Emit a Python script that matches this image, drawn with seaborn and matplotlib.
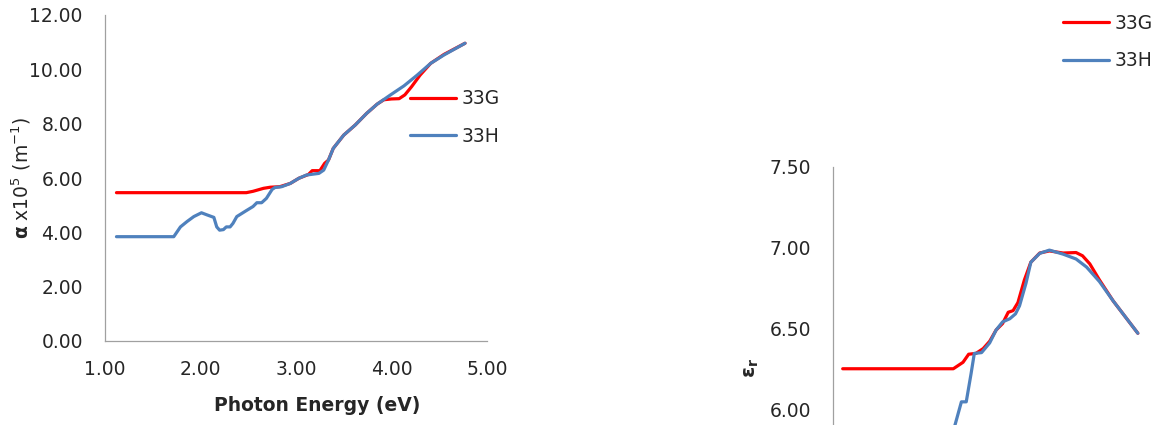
import numpy as np
import pandas as pd
import matplotlib
matplotlib.use("Agg")
import matplotlib.pyplot as plt
import seaborn as sns

# Absorption coefficient alpha (x10^5 m^-1) vs photon energy (eV)
g_alpha_x = [1.12, 2.48, 2.55, 2.66, 2.73, 2.83, 2.94, 3.03, 3.13, 3.17, 3.25, 3.30,
             3.34, 3.39, 3.50, 3.62, 3.74, 3.85, 3.92, 4.00, 4.08, 4.14, 4.21, 4.30,
             4.41, 4.55, 4.77]
g_alpha_y = [5.46, 5.46, 5.51, 5.62, 5.66, 5.68, 5.80, 5.99, 6.13, 6.27, 6.27, 6.54,
             6.66, 7.09, 7.58, 7.95, 8.38, 8.72, 8.88, 8.91, 8.92, 9.06, 9.36, 9.79,
             10.22, 10.55, 10.96]

h_alpha_x = [1.12, 1.72, 1.79, 1.86, 1.93, 2.01, 2.07, 2.14, 2.17, 2.20, 2.24, 2.27,
             2.31, 2.34, 2.38, 2.48, 2.55, 2.59, 2.64, 2.69, 2.75, 2.78, 2.85, 2.94,
             3.03, 3.11, 3.24, 3.29, 3.34, 3.39, 3.50, 3.62, 3.74, 3.85, 3.99, 4.13,
             4.27, 4.41, 4.55, 4.77]
h_alpha_y = [3.84, 3.84, 4.20, 4.40, 4.58, 4.72, 4.64, 4.55, 4.20, 4.08, 4.10, 4.20,
             4.20, 4.33, 4.58, 4.80, 4.95, 5.09, 5.09, 5.25, 5.58, 5.65, 5.68, 5.80,
             5.99, 6.11, 6.17, 6.29, 6.66, 7.09, 7.58, 7.95, 8.38, 8.72, 9.06, 9.39,
             9.79, 10.22, 10.53, 10.96]

# Dielectric constant eps_r vs photon energy (eV)
g_eps_x = [1.12, 2.49, 2.61, 2.68, 2.77, 2.86, 2.94, 3.02, 3.10, 3.17, 3.23, 3.29,
           3.37, 3.45, 3.56, 3.68, 3.85, 4.01, 4.09, 4.18, 4.30, 4.47, 4.775]
g_eps_y = [6.25, 6.25, 6.29, 6.34, 6.345, 6.375, 6.42, 6.49, 6.53, 6.60, 6.61, 6.66,
           6.80, 6.91, 6.967, 6.98, 6.967, 6.97, 6.95, 6.90, 6.80, 6.67, 6.47]

h_eps_x = [1.12, 2.20, 2.51, 2.59, 2.65, 2.71, 2.75, 2.84, 2.94, 3.02, 3.10, 3.19,
           3.26, 3.31, 3.39, 3.45, 3.56, 3.68, 3.85, 4.01, 4.14, 4.30, 4.47, 4.775]
h_eps_y = [5.55, 5.55, 5.90, 6.045, 6.045, 6.22, 6.345, 6.35, 6.41, 6.49, 6.54, 6.56,
           6.59, 6.64, 6.78, 6.91, 6.965, 6.985, 6.96, 6.93, 6.88, 6.79, 6.67, 6.47]

labels = ["33G", "33H"]
colors = ["#FF0000", "#4F81BD"]
eps_ticks = [6.00, 6.50, 7.00, 7.50]  # only the ticks visible in the crop

sns.set_style("white")
plt.rcParams["font.family"] = ["DejaVu Sans"]
plt.rcParams["mathtext.fontset"] = "dejavusans"

FS = 13.5
GREY = "#A0A0A0"
TXT = "#262626"

fig = plt.figure(figsize=(11.57, 4.25), dpi=100)
ax1 = fig.add_axes([105 / 1157, 1 - 341 / 425, 382 / 1157, 326 / 425])
# right panel runs past the bottom of the picture, like the cropped original
ax2 = fig.add_axes([833 / 1157, 1 - 570.5 / 425, 323 / 1157, 403.5 / 425])

for x, y, lab, c in [(g_alpha_x, g_alpha_y, labels[0], colors[0]),
                     (h_alpha_x, h_alpha_y, labels[1], colors[1])]:
    sns.lineplot(x=x, y=y, ax=ax1, color=c, linewidth=2.3, label=lab)

for x, y, lab, c in [(g_eps_x, g_eps_y, labels[0], colors[0]),
                     (h_eps_x, h_eps_y, labels[1], colors[1])]:
    sns.lineplot(x=x, y=y, ax=ax2, color=c, linewidth=2.3, label=lab)

ax1.set_xlim(1, 5)
ax1.set_ylim(0, 12)
ax1.set_xticks(np.arange(1, 5.01, 1))
ax1.set_yticks(np.arange(0, 12.01, 2))
ax2.set_xlim(1, 5)
ax2.set_ylim(5, 7.5)
ax2.set_yticks(eps_ticks)
ax2.set_xticks([])

for ax in (ax1, ax2):
    ax.xaxis.set_major_formatter(matplotlib.ticker.FormatStrFormatter("%.2f"))
    ax.yaxis.set_major_formatter(matplotlib.ticker.FormatStrFormatter("%.2f"))
    for s in ("top", "right"):
        ax.spines[s].set_visible(False)
    for s in ("left", "bottom"):
        ax.spines[s].set_color(GREY)
        ax.spines[s].set_linewidth(0.9)
    ax.tick_params(axis="both", which="major", direction="out", length=5,
                   width=0.9, color=GREY, labelsize=FS, labelcolor=TXT)
    ax.tick_params(axis="y", pad=11)
    ax.tick_params(axis="x", pad=9)
    ax.grid(False)

ax1.set_xlabel("Photon Energy (eV)", fontsize=FS, fontweight="bold", color=TXT)
ax1.xaxis.set_label_coords(0.555, -0.17)
ax1.set_ylabel(r"$\mathbf{\alpha}$ x10$^{5}$ (m$^{-1}$)", fontsize=FS, color=TXT)
ax1.yaxis.set_label_coords(-0.188, 0.5)

ax2.set_xlabel("")
ax2.set_ylabel(r"$\mathbf{\varepsilon_r}$", fontsize=FS + 1, color=TXT)
ax2.yaxis.set_label_coords(-0.223, 0.502)

leg_kw = dict(frameon=False, fontsize=FS, handlelength=2.45, handletextpad=0.3,
              labelspacing=1.0, borderpad=0, borderaxespad=0, loc="center left",
              bbox_transform=fig.transFigure, labelcolor=TXT)
ax1.legend(bbox_to_anchor=(410 / 1157, 1 - 117.5 / 425), **leg_kw)
ax2.legend(bbox_to_anchor=(1063 / 1157, 1 - 42 / 425), **leg_kw)

fig.savefig("out.png", dpi=100)
